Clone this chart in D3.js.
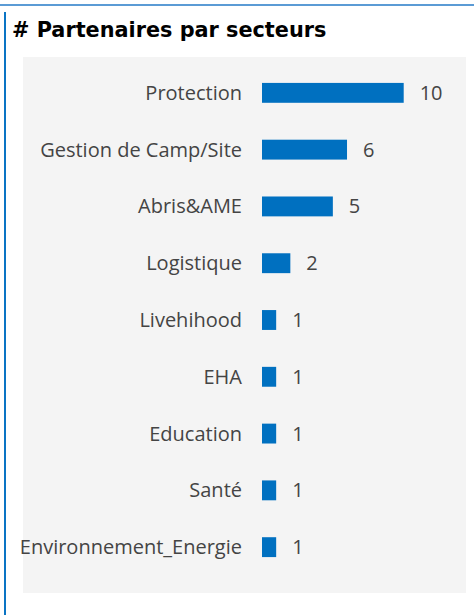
<!DOCTYPE html>
<html>
<head>
<meta charset="utf-8">
<script src="https://cdn.jsdelivr.net/npm/d3@7"></script>
<style>
  body { margin: 0; background: #fff; }
</style>
</head>
<body>
<div id="chart"></div>
<script>
// Data
const secteurs = ['Protection', 'Gestion de Camp/Site', 'Abris&AME', 'Logistique',
  'Livehihood', 'EHA', 'Education', 'Santé', 'Environnement_Energie']
const partenaires = [10, 6, 5, 2, 1, 1, 1, 1, 1]

const width = 474
const height = 615

const svg = d3.select('#chart')
  .append('svg')
  .attr('width', width)
  .attr('height', height)

// frame lines
svg.append('line')
  .attr('x1', 0).attr('x2', width)
  .attr('y1', 5).attr('y2', 5)
  .attr('stroke', '#5b9bd5')
  .attr('stroke-width', 2)

svg.append('line')
  .attr('x1', 5).attr('x2', 5)
  .attr('y1', 12).attr('y2', height)
  .attr('stroke', '#0a74c4')
  .attr('stroke-width', 2)

// title
svg.append('text')
  .attr('x', 12)
  .attr('y', 37)
  .attr('font-family', 'DejaVu Sans')
  .attr('font-weight', 'bold')
  .attr('font-size', 20.8)
  .attr('fill', '#000')
  .text('# Partenaires par secteurs')

// panel
svg.append('rect')
  .attr('x', 23).attr('y', 57)
  .attr('width', 443).attr('height', 536)
  .attr('fill', '#f4f4f4')

// scales
const y = d3.scaleBand()
  .domain(secteurs)
  .range([46, 594])
  .paddingInner(0.65)
  .paddingOuter(0.65)

const x = d3.scaleLinear()
  .domain([0, 10])
  .range([262, 403.7])

const g = svg.append('g')

g.selectAll('rect.bar')
  .data(secteurs)
  .join('rect')
  .attr('class', 'bar')
  .attr('x', x(0))
  .attr('y', d => y(d))
  .attr('width', (d, i) => x(partenaires[i]) - x(0))
  .attr('height', y.bandwidth())
  .attr('fill', '#0070c0')

g.selectAll('text.cat')
  .data(secteurs)
  .join('text')
  .attr('class', 'cat')
  .attr('x', 242)
  .attr('y', d => y(d) + y.bandwidth() / 2)
  .attr('dy', '0.35em')
  .attr('text-anchor', 'end')
  .attr('font-family', 'Open Sans')
  .attr('font-size', 20)
  .attr('fill', '#444')
  .text(d => d)

g.selectAll('text.val')
  .data(secteurs)
  .join('text')
  .attr('class', 'val')
  .attr('x', (d, i) => x(partenaires[i]) + 16)
  .attr('y', d => y(d) + y.bandwidth() / 2)
  .attr('dy', '0.35em')
  .attr('font-family', 'Open Sans')
  .attr('font-size', 20)
  .attr('fill', '#444')
  .text((d, i) => partenaires[i])
</script>
</body>
</html>
